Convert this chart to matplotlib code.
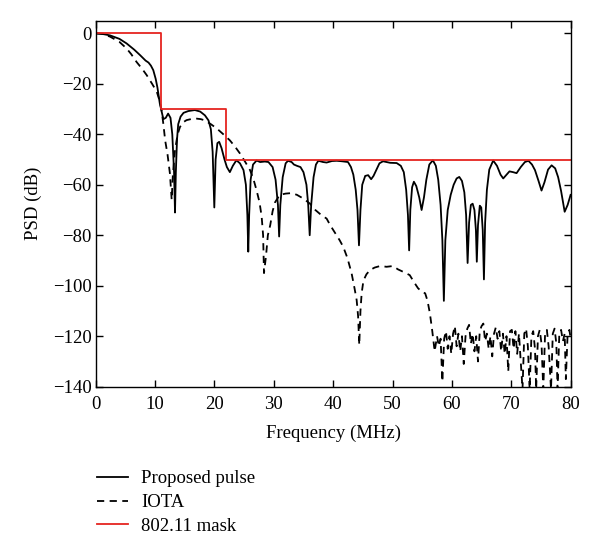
import matplotlib
matplotlib.use('Agg')
import matplotlib.pyplot as plt

plt.rcParams['font.family'] = ['Liberation Serif', 'DejaVu Serif']
plt.rcParams['font.size'] = 13.5
plt.rcParams['axes.linewidth'] = 1.0

# 802.11 spectral mask
mask_f = [0, 11, 11, 22, 22, 80]
mask_db = [0, 0, -30, -30, -50, -50]

# Proposed pulse PSD
prop_f = [0, 1, 2.4, 4, 5.2, 6.5, 7.5, 8.4, 8.9, 9.3, 9.7, 10.1, 10.4, 10.8, 11.1, 11.4,
          11.8, 12.2, 12.6, 12.9, 13.2, 13.36, 13.5, 13.7, 13.9, 14.3, 14.8, 15.6, 16.7,
          17.6, 18.4, 19.0, 19.4, 19.7, 19.98, 20.2, 20.5, 20.8, 21.2, 21.7, 22.1, 22.6,
          23.1, 23.7, 24.3, 24.9, 25.3, 25.55, 25.7, 25.85, 26.1, 26.5, 27.1, 27.7, 28.5,
          29.1, 29.8, 30.3, 30.7, 30.9, 31.1, 31.5, 32.0, 32.4, 33.0, 33.4, 33.9, 34.5,
          35.0, 35.5, 35.8, 36.05, 36.3, 36.7, 37.1, 37.5, 38.3, 38.9, 39.8, 40.6, 41.5,
          42.5, 43.0, 43.4, 43.8, 44.1, 44.35, 44.6, 44.9, 45.4, 45.9, 46.4, 46.8, 47.3,
          47.8, 48.4, 49.0, 49.6, 50.7, 51.4, 51.9, 52.3, 52.6, 52.8, 53.0, 53.3, 53.6,
          54.0, 54.5, 54.9, 55.3, 55.7, 56.2, 56.8, 57.3, 57.7, 58.1, 58.4, 58.65, 58.9,
          59.3, 59.8, 60.3, 60.8, 61.25, 61.7, 62.1, 62.4, 62.65, 62.9, 63.2, 63.5, 63.8,
          64.05, 64.2, 64.4, 64.7, 64.95, 65.2, 65.4, 65.6, 65.9, 66.3, 66.96, 67.6, 68.2,
          68.65, 69.2, 69.7, 70.3, 70.9, 71.6, 72.3, 72.9, 73.5, 74.0, 74.6, 75.1, 75.6,
          76.2, 76.8, 77.4, 77.9, 78.4, 79.0, 79.5, 80]
prop_db = [0, -0.2, -0.8, -2.2, -4, -6.5, -8.7, -10.8, -11.6, -12.8, -14.6, -18, -21.5,
           -27.8, -31, -34, -33.5, -31.8, -33.5, -40, -55, -71, -55, -42, -36, -33, -31.5,
           -30.8, -30.4, -31, -32.5, -34.5, -38, -47, -69, -50, -43.5, -43, -45.5, -50, -53,
           -55, -52.5, -50.3, -51.5, -54.2, -60, -72, -86.5, -72, -58, -52, -50.4, -51,
           -50.8, -51, -53, -58, -68, -80.5, -68, -57, -51.5, -50.5, -51, -52, -52.5, -53,
           -55, -60, -68, -80, -68, -57, -52, -50.5, -51, -51.2, -50.6, -50.5, -50.7, -51,
           -53, -56, -62, -70, -84, -70, -60, -56.5, -56.2, -57.8, -56.5, -54, -51.5, -50.7,
           -51, -51.3, -51.4, -52.5, -55, -62, -72, -86, -70, -61, -58.8, -60.5, -65, -70,
           -65, -58, -52, -50.3, -52.5, -58, -68, -82, -106, -82, -70, -64, -60, -57.5,
           -56.9, -58.5, -63, -72, -91, -75, -68, -67.5, -70, -78, -90.5, -76, -68.3, -69,
           -78, -97.5, -75, -62, -54, -50.4, -52.5, -56, -57.5, -56, -54.7, -55, -55.4, -53,
           -51, -50.5, -52, -54.2, -58.5, -62.3, -59, -54, -52.3, -53.5, -57, -62.5, -70.7,
           -68, -64]

# IOTA PSD
iota_f = [0, 1, 2.4, 4, 5.2, 6.0, 6.9, 7.8, 8.6, 9.5, 10.3, 10.8, 11.1, 11.4, 11.7, 12.1,
          12.5, 12.8, 13.0, 13.36, 13.8, 14.2, 14.7, 15.3, 16.2, 17.0, 17.7, 18.4, 19.4,
          20.4, 21.5, 22.6, 23.5, 24.3, 25.2, 26.0, 26.6, 27.1, 27.6, 27.96, 28.2, 28.35,
          28.7, 29.0, 29.4, 29.8, 30.2, 31.0, 32.0, 33.0, 33.9, 35.0, 36.1, 37.0, 38.0,
          38.9, 39.5, 40.3, 41.1, 41.7, 42.4, 43.1, 43.6, 43.96, 44.2, 44.4, 44.6, 44.8,
          45.1, 45.6, 46.2, 47.0, 47.9, 49.0, 50.1, 50.9, 51.8, 52.9, 53.6, 54.3, 55.0,
          55.5, 55.9, 56.3, 56.7, 57.1,
          57.5, 57.8, 58.1, 58.4, 58.7, 59.0, 59.3, 59.6, 59.9, 60.2, 60.5, 60.8, 61.1,
          61.4, 61.7, 62.0, 62.3, 62.6, 62.9, 63.2, 63.5, 63.8, 64.1, 64.4, 64.7, 65.0,
          65.3, 65.6, 65.9, 66.2, 66.5, 66.8, 67.1, 67.4, 67.7, 68.0, 68.3, 68.6, 68.9,
          69.2, 69.5, 69.8, 70.1, 70.4, 70.7, 71.0, 71.3, 71.6, 71.9, 72.2, 72.5, 72.8,
          73.1, 73.4, 73.7, 74.0, 74.2, 74.5, 74.8, 75.1, 75.4, 75.7, 76.0, 76.3, 76.7,
          77.0, 77.3, 77.6, 77.8, 78.1, 78.4, 78.7, 79.0, 79.2, 79.5, 79.8, 80]
iota_db = [0, -0.2, -1.3, -3.4, -6, -8.3, -11.4, -14, -16.6, -20, -23.2, -27, -30.5, -36,
           -42.4, -48, -55.5, -66, -56, -46.3, -40, -37.1, -35.3, -34.4, -33.9, -33.8, -34,
           -34.5, -36, -37.7, -40, -42.4, -45, -47.6, -51, -54.2, -58, -62.2, -67, -72.7,
           -80, -95, -88, -80, -76, -70.5, -67, -64, -63.5, -63.3, -64, -65.5, -67.5, -70,
           -72, -73.4, -76, -79, -82, -84.6, -89, -95, -101, -105.7, -112, -123.5, -110,
           -103, -98, -95.5, -93.8, -92.8, -92.2, -92.5, -92.2, -93.5, -94.5, -95.8, -98.5,
           -101, -102.5, -103, -106, -111, -118, -126,
           -120, -124, -121, -138, -121, -118, -125, -120, -127, -119, -116, -124, -119,
           -126, -120, -131, -120, -117, -115.5, -123, -119, -126, -120, -130, -118, -116,
           -115, -122, -119, -125, -120, -128, -119, -116.5, -121, -118, -126, -119, -127,
           -120, -134, -118, -117.5, -125, -118, -127, -119, -130, -141, -119, -117, -124,
           -141, -120, -118, -125, -141, -120, -117.5, -123, -141, -119, -117.5, -124, -141,
           -119, -117, -123, -141, -119, -117.5, -122, -119, -137, -119, -117.5, -121]

fig = plt.figure(figsize=(6.0, 5.55), dpi=100)
ax = fig.add_axes([0.1595, 0.3033, 0.7915, 0.6594])

l1, = ax.plot(prop_f, prop_db, color='black', lw=1.3, label='Proposed pulse')
l2, = ax.plot(iota_f, iota_db, color='black', lw=1.3, ls=(0, (4, 3)), label='IOTA')
l3, = ax.plot(mask_f, mask_db, color='#e52420', lw=1.3, label='802.11 mask')

ax.set_xlim(0, 80)
ax.set_ylim(-140, 5)
ax.set_xticks(range(0, 81, 10))
ax.set_yticks(range(-140, 1, 20))
ax.tick_params(direction='in', top=True, right=True, length=5, width=1)
ax.tick_params(axis='x', pad=7)
ax.tick_params(axis='y', pad=3)
ax.set_xlabel('Frequency (MHz)', labelpad=8)
ax.set_ylabel('PSD (dB)', labelpad=8)

fig.legend(handles=[l1, l2, l3], loc='upper left', bbox_to_anchor=(0.162, 0.153),
           frameon=False, borderpad=0, borderaxespad=0, handlelength=1.65,
           handletextpad=0.7, labelspacing=0.36)

fig.savefig('out.png', dpi=100)
